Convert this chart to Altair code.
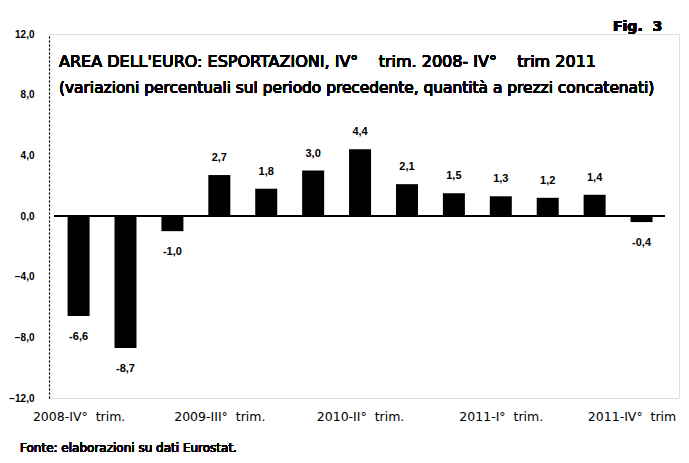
import altair as alt
import pandas as pd

quarters = ["2008-IV", "2009-I", "2009-II", "2009-III", "2009-IV", "2010-I", "2010-II",
            "2010-III", "2010-IV", "2011-I", "2011-II", "2011-III", "2011-IV"]
values = [-6.6, -8.7, -1.0, 2.7, 1.8, 3.0, 4.4, 2.1, 1.5, 1.3, 1.2, 1.4, -0.4]
tick_positions = [0, 3, 6, 9, 12]
NB = "\u00a0"
tick_labels = [f"2008-IV°{NB*2}trim.", f"2009-III°{NB*2}trim.", f"2010-II°{NB*2}trim.",
               f"2011-I°{NB*2}trim.", f"2011-IV°{NB*2}trim"]
y_ticks = [-12, -8, -4, 0, 4, 8, 12]
title_text = f"AREA DELL'EURO: ESPORTAZIONI, IV°{NB*4}trim. 2008- IV°{NB*4}trim 2011"
subtitle_text = "(variazioni percentuali sul periodo precedente, quantità a prezzi concatenati)"
source_text = "Fonte: elaborazioni su dati Eurostat."
fig_text = f"Fig.{NB*2}3"

df = pd.DataFrame({"i": list(range(len(values))), "q": quarters, "v": values})
df["lab"] = [f"{v:.1f}".replace(".", ",") for v in values]

label_map = "{" + ",".join(f"'{p}':'{t}'" for p, t in zip(tick_positions, tick_labels)) + "}"

FONT = "DejaVu Sans"
NUMFONT = "Liberation Sans"

X0, X1 = -0.524, 12.692
xs = alt.Scale(domain=[X0, X1], nice=False, zero=False)
ys = alt.Scale(domain=[-12, 12], nice=False)

x_enc = alt.X("i:Q", scale=xs, axis=alt.Axis(
    values=tick_positions, labelExpr=f"{label_map}[datum.value]", domain=False, ticks=False,
    grid=False, title=None, labelFont=FONT, labelFontSize=12.5, labelColor="black",
    labelPadding=12, labelFlush=False, labelOverlap=False,
    labelOffset={"condition": {"test": "datum.value == 12", "value": -10}, "value": 0}))
y_enc = alt.Y("v:Q", scale=ys, axis=alt.Axis(
    values=y_ticks, labelExpr="replace(format(datum.value, '.1f'), '.', ',')",
    domain=True, domainDash=[2, 2], domainColor="black", domainWidth=1.2,
    ticks=False, grid=False, title=None, labelFont=NUMFONT, labelFontSize=10,
    labelFontWeight="bold", labelColor="black", labelPadding=15))

bars = alt.Chart(df).mark_bar(color="black", size=22).encode(x=x_enc, y=y_enc, y2=alt.datum(0))

zero = alt.Chart(df).mark_rule(color="black", strokeWidth=1.5).encode(
    x=alt.datum(X0), x2=alt.datum(12.5), y=alt.datum(0))

pos_labels = alt.Chart(df).transform_filter("datum.v >= 0").mark_text(
    font=NUMFONT, fontSize=11, fontWeight="bold", dy=-17, color="black").encode(
    x=alt.X("i:Q", scale=xs), y=alt.Y("v:Q", scale=ys), text="lab:N")
neg_labels = alt.Chart(df).transform_filter("datum.v < 0").mark_text(
    font=NUMFONT, fontSize=11, fontWeight="bold", dy=21, color="black").encode(
    x=alt.X("i:Q", scale=xs), y=alt.Y("v:Q", scale=ys), text="lab:N")

title1 = alt.Chart(df).mark_text(font=FONT, fontSize=16, align="left", baseline="middle",
                                 color="black", text=title_text).encode(
    x=alt.value(10), y=alt.value(28))
title2 = alt.Chart(df).mark_text(font=FONT, fontSize=15.4, align="left", baseline="middle",
                                 color="black", text=subtitle_text).encode(
    x=alt.value(10), y=alt.value(54))
fig = alt.Chart(df).mark_text(font=FONT, fontSize=14, fontWeight="bold", align="left", baseline="middle",
                              color="black", text=fig_text).encode(
    x=alt.value(564), y=alt.value(-7))
source = alt.Chart(df).mark_text(font=FONT, fontSize=12, align="left", baseline="middle",
                                 color="black", text=source_text).encode(
    x=alt.value(-29), y=alt.value(414))

chart = alt.layer(bars, zero, pos_labels, neg_labels, title1, title2, fig, source).properties(
    width=630, height=364,
    autosize=alt.AutoSizeParams(type="none"),
    padding={"left": 41, "top": 26, "right": 2, "bottom": 56},
).configure_view(stroke=None).configure(background="white")

chart.save("out.html", embed_options={"renderer": "svg", "actions": False})
